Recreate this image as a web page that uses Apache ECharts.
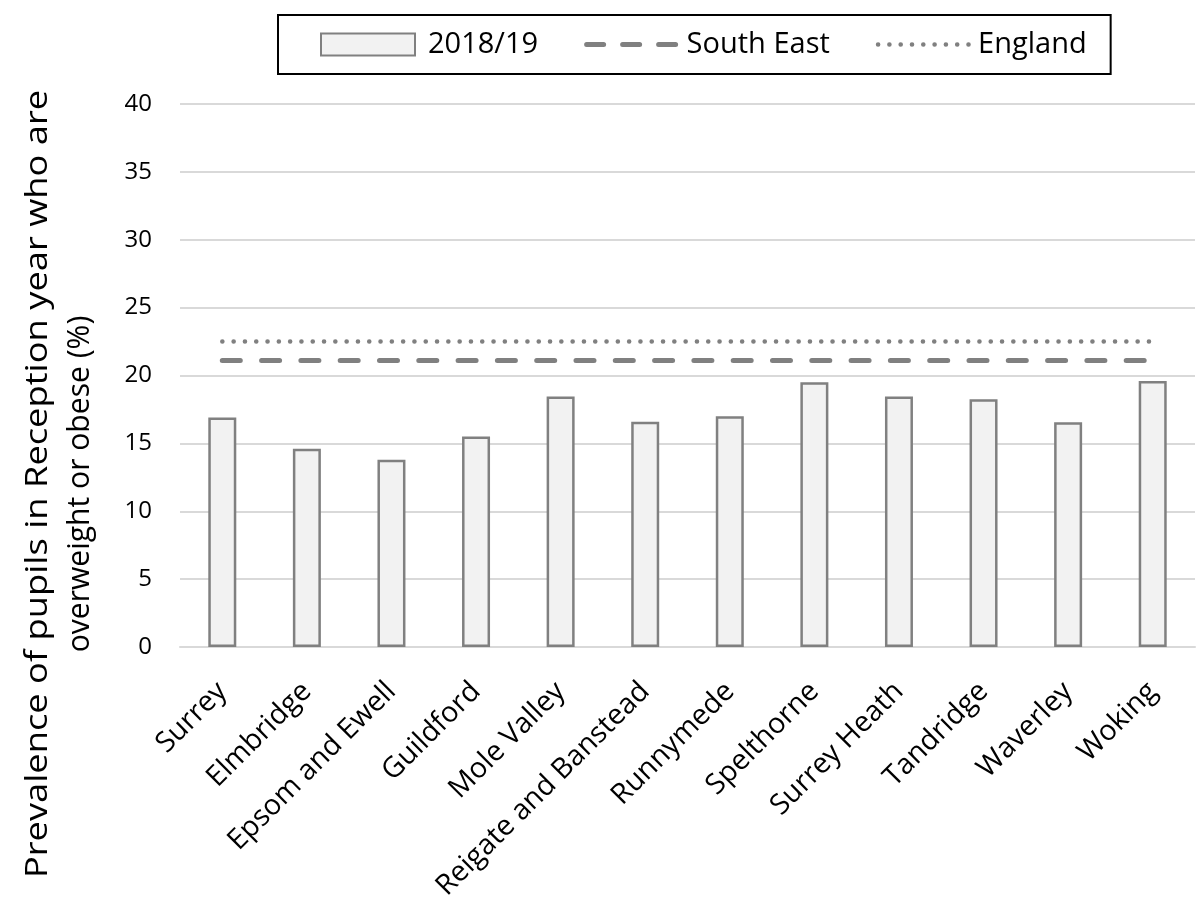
<!DOCTYPE html>
<html>
<head>
<meta charset="utf-8">
<script src="https://cdn.jsdelivr.net/npm/echarts@6/dist/echarts.min.js"></script>
<style>
html,body{margin:0;padding:0;background:#fff;}
#chart{width:1204px;height:908px;}
</style>
</head>
<body>
<div id="chart"></div>
<script>
const categories = ['Surrey','Elmbridge','Epsom and Ewell','Guildford','Mole Valley','Reigate and Banstead','Runnymede','Spelthorne','Surrey Heath','Tandridge','Waverley','Woking'];
const values2018 = [16.9, 14.6, 13.8, 15.5, 18.45, 16.6, 17.0, 19.5, 18.45, 18.25, 16.55, 19.6];
const southEastValue = 21.1;
const englandValue = 22.5;
const yTicks = {min: 0, max: 40, interval: 5};
const yTitleLines = ['Prevalence of pupils in Reception year who are', 'overweight or obese (%)'];

const FONT = 'Open Sans';
const dashType = [18, 21.3];
const dotType = [0.1, 11.2];
const chart = echarts.init(document.getElementById('chart'));
chart.setOption({
  animation: false,
  backgroundColor: '#fff',
  grid: {left: 180, right: 9, top: 104, bottom: 261},
  legend: {
    left: 278, top: 15,
    padding: [15, 24, 15, 42],
    borderColor: '#000', borderWidth: 2,
    itemWidth: 94, itemHeight: 22, itemGap: 46,
    textStyle: {fontFamily: FONT, fontSize: 29, color: '#000', padding: [0, 0, 0, 1]},
    data: [
      {name: '2018/19', icon: 'rect', textStyle: {padding: [0, 0, 0, 8]}},
      {name: 'South East', itemStyle: {opacity: 0}, lineStyle: {width: 5, type: [17, 19], cap: 'round'}},
      {name: 'England', itemStyle: {opacity: 0}, lineStyle: {width: 4.5, type: dotType, cap: 'round'}}
    ]
  },
  xAxis: {
    type: 'category',
    data: categories,
    axisLine: {lineStyle: {color: '#d9d9d9', width: 2}},
    axisTick: {show: false},
    axisLabel: {rotate: 45, interval: 0, fontFamily: FONT, fontSize: 28.5, color: '#000', margin: 40}
  },
  yAxis: {
    type: 'value',
    min: yTicks.min, max: yTicks.max, interval: yTicks.interval,
    axisLine: {show: false},
    axisTick: {show: false},
    splitLine: {lineStyle: {color: '#d9d9d9', width: 2}},
    axisLabel: {fontFamily: FONT, fontSize: 24, color: '#000', margin: 28}
  },
  graphic: [{
    type: 'text',
    x: 38, y: 484,
    rotation: Math.PI / 2,
    scaleX: 1.17,
    style: {
      text: yTitleLines[0],
      fontFamily: FONT, fontSize: 31, fill: '#000',
      align: 'center', verticalAlign: 'middle'
    }
  }, {
    type: 'text',
    x: 80, y: 484,
    rotation: Math.PI / 2,
    scaleX: 0.97,
    style: {
      text: yTitleLines[1],
      fontFamily: FONT, fontSize: 31, fill: '#000',
      align: 'center', verticalAlign: 'middle'
    }
  }],
  series: [
    {
      name: '2018/19', type: 'bar', data: values2018, barWidth: 28,
      itemStyle: {color: '#f2f2f2', borderColor: '#808080', borderWidth: 2.5}
    },
    {
      name: 'South East', type: 'line', data: categories.map(() => southEastValue),
      symbol: 'none', z: 5,
      lineStyle: {color: '#808080', width: 5, type: dashType, cap: 'round'},
      itemStyle: {color: '#808080'}
    },
    {
      name: 'England', type: 'line', data: categories.map(() => englandValue),
      symbol: 'none', z: 5,
      lineStyle: {color: '#808080', width: 4.5, type: dotType, cap: 'round'},
      itemStyle: {color: '#808080'}
    }
  ]
});
</script>
</body>
</html>
